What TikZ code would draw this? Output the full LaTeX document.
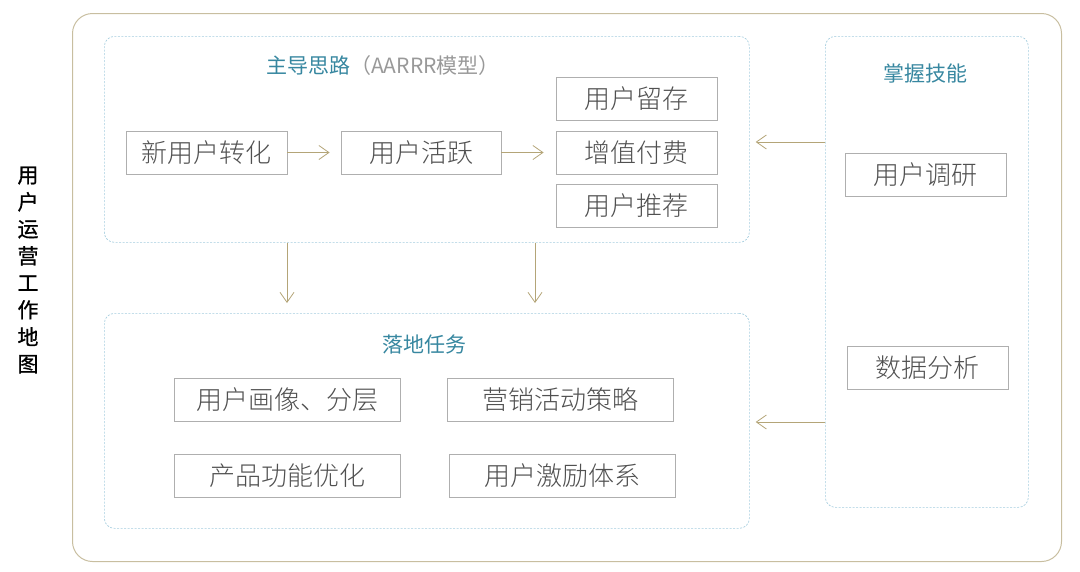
\documentclass[tikz,border=0pt]{standalone}
\usepackage{fontspec}
\setmainfont{Noto Sans CJK SC}
\newfontfamily\lightcjk{Noto Sans CJK SC Light}
\usetikzlibrary{arrows.meta}
\definecolor{boxline}{RGB}{175,175,175}
\definecolor{boxtext}{RGB}{80,80,80}
\definecolor{teal}{RGB}{55,135,160}
\definecolor{dashblue}{RGB}{165,205,222}
\definecolor{arrowc}{RGB}{180,165,120}
\definecolor{outerc}{RGB}{200,190,160}
\tikzset{
  itembox/.style={draw=boxline, line width=0.8pt, text=boxtext, font=\lightcjk\fontsize{26}{28}\selectfont, inner sep=0pt, anchor=center},
  groupbox/.style={draw=dashblue, line width=0.7pt, dash pattern=on 2pt off 1.5pt, rounded corners=10pt, inner sep=0pt, anchor=north west},
  gtitle/.style={text=teal, font=\fontsize{21}{23}\selectfont, inner sep=0pt},
  arr/.style={draw=arrowc, line width=0.8pt, -{Straight Barb[length=10pt,width=14pt,line width=0.8pt]}},
}
\begin{document}
\begin{tikzpicture}[x=1pt,y=-1pt]
\useasboundingbox (0,0) rectangle (1080,571);
% outer frame
\node[draw=outerc, line width=1pt, rounded corners=20pt, minimum width=989pt, minimum height=548pt, anchor=north west, inner sep=0pt] (frame) at (72,13) {};
% vertical title
\node[font=\addfontfeature{FakeBold=0.8}\fontsize{21}{27}\selectfont, align=center, text=black, inner sep=0pt] (vtitle) at (28,270) {用\\户\\运\\营\\工\\作\\地\\图};
% group boxes
\node[groupbox, minimum width=645pt, minimum height=206pt] (top) at (104,36) {};
\node[groupbox, minimum width=645pt, minimum height=215pt] (bot) at (104,313) {};
\node[groupbox, minimum width=203pt, minimum height=471pt] (skill) at (825,36) {};
% titles
\node[gtitle] (ttop) at (383,66) {主导思路\textcolor{gray!80}{（AARRR模型）}};
\node[gtitle] (tbot) at (424,345) {落地任务};
\node[gtitle] (tskill) at (925,74) {掌握技能};
% top items
\node[itembox, minimum width=161pt, minimum height=43pt] (n1) at (206.5,152.5) {新用户转化};
\node[itembox, minimum width=160pt, minimum height=43pt] (n2) at (421,152.5) {用户活跃};
\node[itembox, minimum width=161pt, minimum height=43pt] (n3) at (636.5,98.5) {用户留存};
\node[itembox, minimum width=161pt, minimum height=43pt] (n4) at (636.5,152.5) {增值付费};
\node[itembox, minimum width=161pt, minimum height=43pt] (n5) at (636.5,206) {用户推荐};
% bottom items
\node[itembox, minimum width=226pt, minimum height=43pt] (b1) at (287,399.5) {用户画像、分层};
\node[itembox, minimum width=226pt, minimum height=43pt] (b2) at (560,399.5) {营销活动策略};
\node[itembox, minimum width=226pt, minimum height=43pt] (b3) at (287,475.5) {产品功能优化};
\node[itembox, minimum width=226pt, minimum height=43pt] (b4) at (562,475.5) {用户激励体系};
% skill items
\node[itembox, minimum width=161pt, minimum height=43pt] (s1) at (925.5,174.5) {用户调研};
\node[itembox, minimum width=161pt, minimum height=43pt] (s2) at (927.5,367.5) {数据分析};
% connectors
\draw[arr, shorten >=11pt] (n1.east) -- (n2.west);
\draw[arr, shorten >=12pt] (n2.east) -- (n4.west);
\coordinate (d1) at (287,0);
\coordinate (d2) at (535,0);
\coordinate (l1) at (0,142);
\coordinate (l2) at (0,422);
\draw[arr, shorten >=10pt] (top.south -| d1) -- (bot.north -| d1);
\draw[arr, shorten >=10pt] (top.south -| d2) -- (bot.north -| d2);
\draw[arr, shorten >=6pt] (skill.west |- l1) -- (top.east |- l1);
\draw[arr, shorten >=6pt] (skill.west |- l2) -- (bot.east |- l2);
\end{tikzpicture}
\end{document}
